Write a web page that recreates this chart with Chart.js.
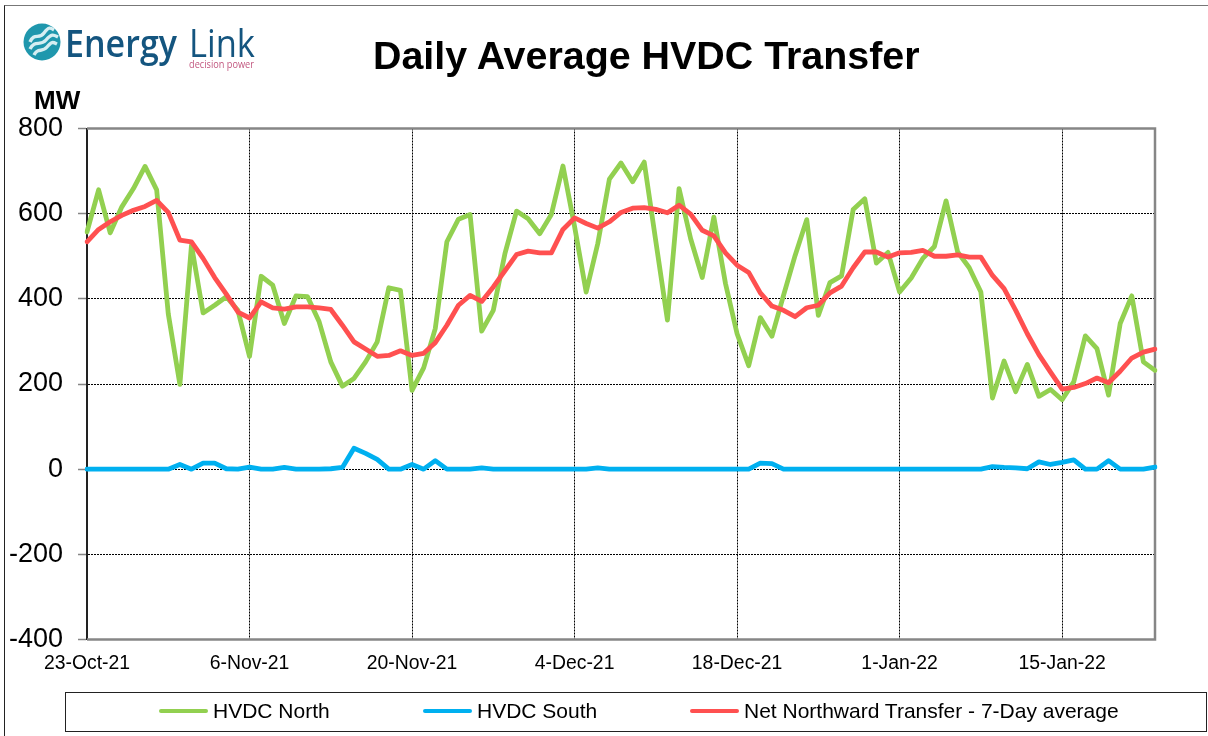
<!DOCTYPE html>
<html>
<head>
<meta charset="utf-8">
<title>Daily Average HVDC Transfer</title>
<script src="https://cdn.jsdelivr.net/npm/chart.js@4"></script>
<style>
  html, body { margin: 0; padding: 0; background: #fff; }
  body { width: 1208px; height: 736px; position: relative; overflow: hidden; font-family: "Liberation Sans", Arial, sans-serif; color: #000; }
  #frame { position: absolute; left: 4px; top: 5px; width: 1300px; height: 800px; border-left: 1.5px solid #222; border-top: 1.5px solid #777; }
  canvas { position: absolute; left: 0; top: 0; }
  #title { position: absolute; left: 373px; top: 31px; font-size: 39.4px; font-weight: bold; line-height: 48px; white-space: nowrap; }
  #unit { position: absolute; left: 34px; top: 85px; font-size: 26px; font-weight: bold; line-height: 30px; }
  #logo { position: absolute; left: 22px; top: 22px; width: 240px; height: 50px; }
  #legend { position: absolute; left: 65px; top: 692px; width: 1140px; height: 38px; border: 1.5px solid #222; box-sizing: content-box; }
  .item { position: absolute; top: -1px; height: 38px; line-height: 38px; font-size: 21px; white-space: nowrap; }
  .item i { position: absolute; left: 0; top: 16.5px; width: 49px; height: 4.8px; border-radius: 2px; }
  .item span { position: absolute; left: 54px; top: 0; }
</style>
</head>
<body>
<div id="frame"></div>
<canvas id="chart" width="1208" height="736"></canvas>
<svg id="logo" viewBox="0 0 240 50">
  <circle cx="20" cy="20" r="18.5" fill="#1f97ad"/>
  <path d="M8 20 C12 10 17 18 22 11 S29 6 32 8 M8 27 C13 17 18 25 24 18 S32 13 36 15 M12 33 C16 25 20 31 25 25 S31 20 35 22" fill="none" stroke="#d6eef2" stroke-width="3.4"/>
  <text x="43" y="35" font-family="Open Sans" font-size="38" font-weight="600" fill="#14557f" textLength="112" lengthAdjust="spacingAndGlyphs">Energy</text>
  <text x="167" y="35" font-family="Open Sans" font-size="38" fill="#14557f" textLength="66" lengthAdjust="spacingAndGlyphs">Link</text>
  <text x="167" y="46" font-family="Open Sans" font-size="10.5" fill="#c2577f" textLength="65" lengthAdjust="spacingAndGlyphs">decision power</text>
</svg>
<div id="title">Daily Average HVDC Transfer</div>
<div id="unit">MW</div>
<div id="legend"></div>
<script>
const tickLabels = ['23-Oct-21', '6-Nov-21', '20-Nov-21', '4-Dec-21', '18-Dec-21', '1-Jan-22', '15-Jan-22'];
const yTicks = [800, 600, 400, 200, 0, -200, -400];
const seriesNames = ['HVDC North', 'HVDC South', 'Net Northward Transfer - 7-Day average'];
const seriesColors = ['#92D050', '#00B0F0', '#FF5050'];

const hvdcNorth = [
  557, 656, 555, 616, 659, 711, 656, 365, 199, 526,
  367, 385, 405, 373, 265, 453, 432, 342, 407, 405,
  346, 252, 195, 213, 252, 299, 426, 420, 185, 238,
  330, 534, 587, 598, 324, 373, 506, 606, 588, 553,
  598, 712, 570, 416, 530, 681, 719, 675, 721, 535,
  350, 659, 541, 450, 592, 436, 318, 243, 356, 312,
  408, 502, 586, 361, 438, 454, 610, 635, 484, 509,
  416, 449, 495, 523, 630, 510, 473, 416, 167, 254,
  182, 246, 171, 187, 163, 205, 313, 283, 174, 342,
  407, 252, 232
];
const hvdcSouth = [
  0, 0, 0, 0, 0, 0, 0, 0, 11, 0,
  14, 14, 1, 0, 5, 0, 0, 4, 0, 0,
  0, 1, 4, 49, 37, 23, 0, 0, 11, 0,
  20, 0, 0, 0, 3, 0, 0, 0, 0, 0,
  0, 0, 0, 0, 3, 0, 0, 0, 0, 0,
  0, 0, 0, 0, 0, 0, 0, 0, 14, 13,
  0, 0, 0, 0, 0, 0, 0, 0, 0, 0,
  0, 0, 0, 0, 0, 0, 0, 0, 6, 4,
  3, 1, 17, 11, 16, 22, 0, 0, 20, 0,
  0, 0, 5
];
const netAverage = [
  534, 563, 581, 596, 608, 617, 631, 603, 538, 534,
  495, 450, 411, 369, 355, 393, 379, 376, 381, 381,
  379, 375, 338, 299, 282, 265, 267, 278, 267, 272,
  297, 338, 385, 408, 394, 428, 466, 504, 512, 508,
  508, 563, 590, 577, 566, 581, 603, 613, 614, 610,
  602, 620, 599, 561, 548, 508, 479, 462, 414, 383,
  373, 358, 379, 385, 414, 430, 473, 510, 510, 498,
  508, 509, 514, 500, 500, 503, 498, 498, 455, 424,
  373, 318, 269, 228, 188, 192, 201, 214, 203, 230,
  261, 275, 282
];

// one label per day, 23 Oct 2021 onwards
const months = ['Jan', 'Feb', 'Mar', 'Apr', 'May', 'Jun', 'Jul', 'Aug', 'Sep', 'Oct', 'Nov', 'Dec'];
const categories = hvdcNorth.map((_, i) => {
  const d = new Date(2021, 9, 23 + i);
  return d.getDate() + '-' + months[d.getMonth()] + '-' + String(d.getFullYear()).slice(2);
});

const frame = {
  id: 'frame',
  beforeDatasetsDraw(chart) {
    const { ctx, chartArea: a } = chart;
    ctx.save();
    ctx.strokeStyle = '#868686';
    ctx.lineWidth = 2.5;
    ctx.beginPath();
    ctx.moveTo(a.left, a.top);
    ctx.lineTo(a.right, a.top);
    ctx.lineTo(a.right, a.bottom);
    ctx.lineTo(a.left, a.bottom);
    ctx.stroke();
    ctx.restore();
  }
};

const line = (name, i, values, order) => ({
  label: name,
  data: values,
  borderColor: seriesColors[i],
  backgroundColor: seriesColors[i],
  borderWidth: 4.8,
  borderJoinStyle: 'round',
  borderCapStyle: 'round',
  pointRadius: 0,
  tension: 0,
  order
});

new Chart(document.getElementById('chart').getContext('2d'), {
  type: 'line',
  plugins: [frame],
  data: {
    labels: categories,
    datasets: [
      line(seriesNames[0], 0, hvdcNorth, 2),
      line(seriesNames[1], 1, hvdcSouth, 1),
      line(seriesNames[2], 2, netAverage, 0)
    ]
  },
  options: {
    responsive: false,
    animation: false,
    layout: { padding: { top: 128.5, right: 53, bottom: 0, left: 0 } },
    plugins: { legend: { display: false }, title: { display: false }, tooltip: { enabled: false } },
    scales: {
      x: {
        afterFit: scale => { scale.height = 96.5; },
        border: { display: false, dash: [2, 1] },
        grid: { color: '#000', lineWidth: 1, drawTicks: false, tickLength: 0 },
        ticks: {
          autoSkip: false,
          maxRotation: 0,
          padding: 13,
          color: '#000',
          font: { family: 'Liberation Sans', size: 19.4 },
          callback(value) {
            const label = this.getLabelForValue(value);
            return tickLabels.includes(label) ? label : null;
          }
        }
      },
      y: {
        min: -400,
        max: 800,
        afterFit: scale => { scale.width = 87; },
        afterBuildTicks: scale => { scale.ticks = yTicks.map(value => ({ value })); },
        border: { display: true, color: '#222', width: 2, dash: [2, 1] },
        grid: { color: '#000', lineWidth: 1, tickLength: 9, tickColor: '#868686', tickWidth: 1.5 },
        ticks: {
          padding: 15,
          color: '#000',
          font: { family: 'Liberation Sans', size: 27 }
        }
      }
    }
  }
});

// legend sits in its own box under the chart
const legend = document.getElementById('legend');
const legendLeft = [93, 357, 624];
seriesNames.forEach((name, i) => {
  const item = document.createElement('div');
  item.className = 'item';
  item.style.left = legendLeft[i] + 'px';
  item.innerHTML = '<i style="background:' + seriesColors[i] + '"></i><span>' + name + '</span>';
  legend.appendChild(item);
});
</script>
</body>
</html>
